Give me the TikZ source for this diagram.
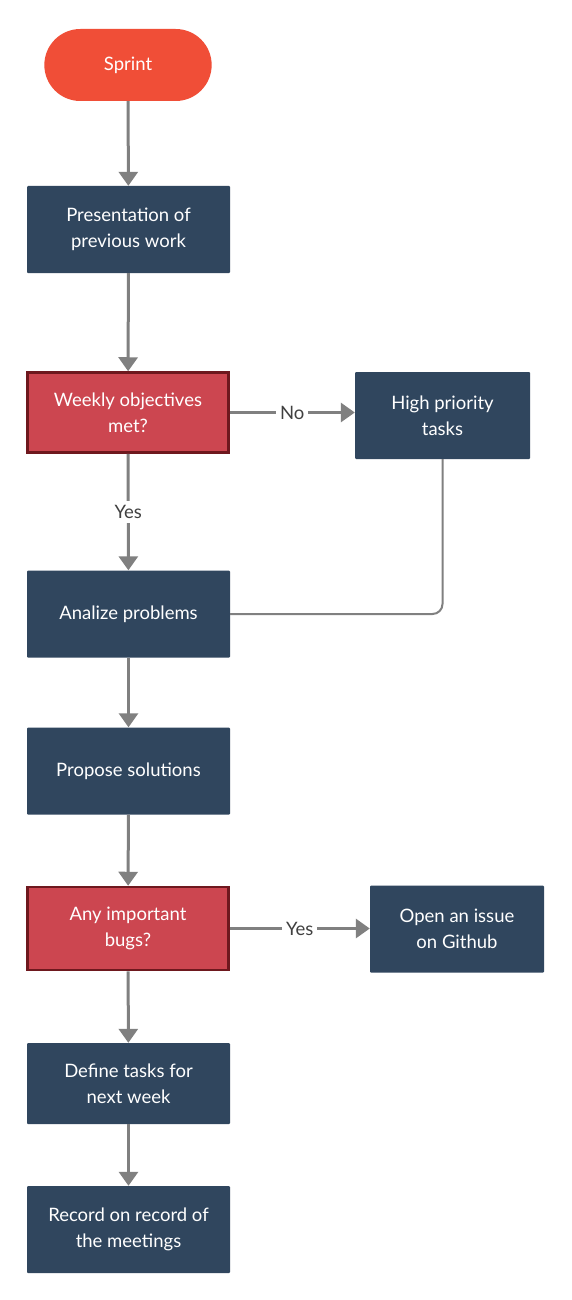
\documentclass[tikz,border=0pt]{standalone}
\usepackage{fontspec}
\setmainfont{Lato}
\usetikzlibrary{shapes, arrows.meta, positioning, calc}

\definecolor{sprintred}{RGB}{240,78,55}
\definecolor{stepblue}{RGB}{48,70,94}
\definecolor{askred}{RGB}{204,70,80}
\definecolor{askborder}{RGB}{110,24,30}
\definecolor{linegray}{RGB}{128,128,128}

\tikzset{
  startbox/.style={rounded rectangle, fill=sprintred, text=white, minimum width=174pt, minimum height=72pt},
  stepbox/.style={rectangle, rounded corners=1pt, fill=stepblue, text=white, align=center, minimum width=203pt, minimum height=87pt},
  sidebox/.style={stepbox, minimum width=175pt},
  askbox/.style={rectangle, fill=askred, draw=askborder, line width=2.5pt, text=white, align=center, minimum width=201pt, minimum height=80pt},
  flow/.style={draw=linegray, line width=3pt, -{Triangle[width=19pt,length=14pt]}},
  back/.style={draw=linegray, line width=2pt, rounded corners=10pt},
  answer/.style={fill=white, text=black!75, inner sep=4pt}
}

\begin{document}
\begin{tikzpicture}[x=1pt, y=-1pt, every node/.style={font=\fontsize{18.5}{26}\selectfont}]
\useasboundingbox[fill=white] (0,0) rectangle (571,1300);
% main column
\node[startbox] (sprint) at (128,65) {Sprint};
\node[stepbox] (present) at (128.5,229.5) {Presentation of\\previous work};
\node[askbox] (weekly) at (128,412.5) {Weekly objectives\\met?};
\node[sidebox] (priority) at (442.5,415.5) {High priority\\tasks};
\node[stepbox] (analize) at (128.5,614) {Analize problems};
\node[stepbox] (propose) at (128.5,771) {Propose solutions};
\node[askbox, minimum height=83pt] (bugs) at (128,928.5) {Any important\\bugs?};
\node[sidebox, minimum width=174pt] (issue) at (457,929) {Open an issue\\on Github};
\node[stepbox, minimum height=81pt] (define) at (128.5,1083.5) {Define tasks for\\next week};
\node[stepbox] (record) at (128.5,1229.5) {Record on record of\\the meetings};
% arrows
\draw[flow] (sprint) -- (present);
\draw[flow] (present) -- (weekly);
\draw[flow] (weekly) -- node[answer] {Yes} (analize);
\draw[flow] (weekly.east) -- node[answer] {No} (weekly.east -| priority.west);
\draw[back] (priority.south) |- (analize.east);
\draw[flow] (analize) -- (propose);
\draw[flow] (propose) -- (bugs);
\draw[flow] (bugs.east) -- node[answer] {Yes} (bugs.east -| issue.west);
\draw[flow] (bugs) -- (define);
\draw[flow] (define) -- (record);
\end{tikzpicture}
\end{document}
